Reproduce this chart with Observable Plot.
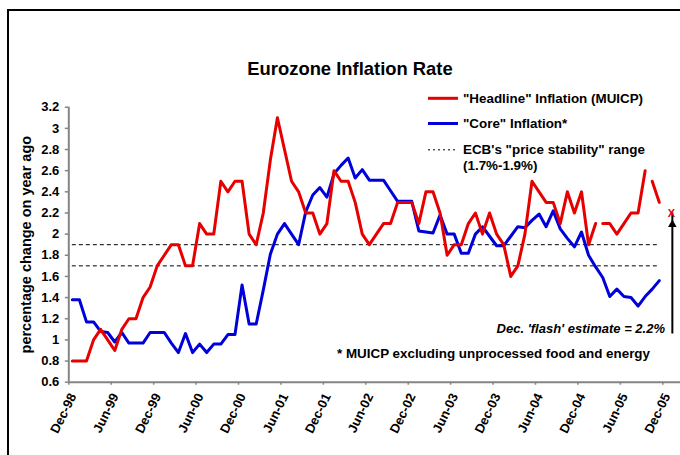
<!DOCTYPE html>
<html><head><meta charset="utf-8">
<script src="https://cdn.jsdelivr.net/npm/d3@7"></script>
<script src="https://cdn.jsdelivr.net/npm/@observablehq/plot@0.6"></script>
<style>
body{margin:0;background:#fff;}
#wrap{position:relative;width:680px;height:455px;overflow:hidden;background:#fff;}
#wrap svg{position:absolute;left:0;top:0;overflow:visible;}
.frame{position:absolute;left:7px;top:9px;width:720px;height:520px;border:2px solid #000;pointer-events:none;}
</style></head><body>
<div id="wrap"></div>
<script>
// ---- data ----
const tickLabels = ["Dec-98","Jun-99","Dec-99","Jun-00","Dec-00","Jun-01","Dec-01","Jun-02","Dec-02","Jun-03","Dec-03","Jun-04","Dec-04","Jun-05","Dec-05"];
const yTicks = [0.6,0.8,1,1.2,1.4,1.6,1.8,2,2.2,2.4,2.6,2.8,3,3.2];
// monthly, Dec-98 .. Nov-05
const headline = [
  0.8,0.8,0.8,1.0,1.1,1.0,0.9,1.1,1.2,1.2,1.4,1.5,
  1.7,1.8,1.9,1.9,1.7,1.7,2.1,2.0,2.0,2.5,2.4,2.5,
  2.5,2.0,1.9,2.2,2.7,3.1,2.8,2.5,2.4,2.2,2.2,2.0,
  2.1,2.6,2.5,2.5,2.3,2.0,1.9,2.0,2.1,2.1,2.3,2.3,
  2.3,2.1,2.4,2.4,2.2,1.8,1.9,1.9,2.1,2.2,2.0,2.2,
  2.0,1.9,1.6,1.7,2.0,2.5,2.4,2.3,2.3,2.1,2.4,2.2,
  2.4,1.9,2.1,2.1,2.1,2.0,2.1,2.2,2.2,2.6,2.5,2.3
];
const core = [
  1.38,1.38,1.17,1.17,1.08,1.07,0.98,1.07,0.97,0.97,0.97,1.07,
  1.07,1.07,0.97,0.88,1.06,0.88,0.96,0.88,0.96,0.96,1.05,1.05,
  1.52,1.15,1.15,1.47,1.81,2.00,2.10,2.00,1.90,2.21,2.37,2.44,
  2.35,2.57,2.65,2.72,2.53,2.61,2.51,2.51,2.51,2.41,2.31,2.31,
  2.31,2.03,2.02,2.01,2.18,2.00,2.00,1.82,1.82,2.00,2.07,1.98,
  1.89,1.89,1.98,2.07,2.06,2.13,2.19,2.07,2.22,2.05,1.96,1.88,
  2.02,1.80,1.69,1.59,1.41,1.48,1.41,1.40,1.32,1.41,1.48,1.56
];
const headlineBreaksAfter = ["Feb-05","Sep-05"];
const flashLabel = "Dec-05";
const flashValue = 2.2;
const arrowBase = 1.15;
const ecbRange = [1.7, 1.9];

// ---- derived tables ----
const fmt = d3.utcFormat("%b-%y");
const months = d3.utcMonth.range(new Date(Date.UTC(1998,11,1)), new Date(Date.UTC(2006,0,1))).map(fmt);
const breakIdx = headlineBreaksAfter.map(m => months.indexOf(m));
const headRows = headline.map((v,i) => ({i, v, seg: breakIdx.filter(b => b < i).length}));
const coreRows = core.map((v,i) => ({i, v}));
const flash = [{i: months.indexOf(flashLabel), v: flashValue}];
const tickPos = tickLabels.map(l => months.indexOf(l) - 0.5);

const RED = "#e60000", BLUE = "#0000d8", GRAY = "#858585";
const FONT = "'Liberation Sans', Arial, sans-serif";

const svg = Plot.plot({
  width: 680, height: 455,
  marginLeft: 68.3, marginRight: 0, marginTop: 106.7, marginBottom: 73.3,
  style: {fontFamily: FONT, fontWeight: "bold", fontSize: "13px", color: "#000", background: "transparent"},
  x: {type: "linear", domain: [-0.5, 86]},
  y: {domain: [0.6, 3.2]},
  marks: [
    Plot.ruleY(ecbRange, {x1: 0, x2: headline.length - 1, stroke: "#000", strokeWidth: 1, strokeDasharray: "4,3"}),
    Plot.line(coreRows, {x: "i", y: "v", stroke: BLUE, strokeWidth: 3, strokeLinejoin: "round"}),
    Plot.line(headRows, {x: "i", y: "v", z: "seg", stroke: RED, strokeWidth: 3, strokeLinejoin: "round"}),
    Plot.ruleY([0.6], {stroke: GRAY, strokeWidth: 2}),
    Plot.ruleX([-0.5], {stroke: GRAY, strokeWidth: 2}),
    Plot.axisY({ticks: yTicks, tickSize: 3.5, tickPadding: 6, stroke: GRAY, strokeWidth: 1.5, fill: "#000",
      tickFormat: d => String(+d.toFixed(1)), label: null}),
    Plot.axisX({ticks: tickPos, tickSize: 3, stroke: GRAY, strokeWidth: 1.5, tickFormat: () => "", label: null}),
    Plot.axisX({ticks: tickPos, tickSize: 0, tickPadding: 12, tickRotate: -64, dx: 4, fill: "#000",
      tickFormat: d => tickLabels[Math.round((d + 0.5) / 6)], label: null}),
    Plot.text(["percentage change on year ago"], {frameAnchor: "left", rotate: -90, dx: -38, textAnchor: "middle", lineAnchor: "bottom", fontSize: 14.5}),
    Plot.ruleX(flash, {x: "i", y1: () => arrowBase, y2: "v", dx: 6, insetTop: 10, stroke: "#000", strokeWidth: 2}),
    Plot.dot(flash, {x: "i", y: "v", symbol: "triangle", r: 3.2, fill: "#000", stroke: "none", dx: 6, dy: 11.6}),
    Plot.text(flash, {x: "i", y: "v", text: () => "X", fill: RED, dx: 5, fontSize: 11})
  ]
});

// ---- title, legend and notes ----
const g = d3.select(svg).append("g").attr("font-family", FONT).attr("font-weight", "bold").attr("fill", "#000").attr("text-anchor", "start");
g.append("text").attr("x", 350).attr("y", 74.5).attr("text-anchor", "middle").attr("font-size", 18.4).text("Eurozone Inflation Rate");
const legend = [
  {label: ["\"Headline\" Inflation (MUICP)"], color: RED, dash: null, w: 3, y: 98.3},
  {label: ["\"Core\" Inflation*"], color: BLUE, dash: null, w: 3, y: 123.5},
  {label: ["ECB's \"price stability\" range", "(1.7%-1.9%)"], color: "#000", dash: "2,3", w: 1, y: 149.8}
];
legend.forEach(d => {
  g.append("line").attr("x1", 428).attr("x2", 458).attr("y1", d.y).attr("y2", d.y)
    .attr("stroke", d.color).attr("stroke-width", d.w).attr("stroke-dasharray", d.dash);
  d.label.forEach((t, k) => g.append("text").attr("x", 463).attr("y", d.y + 4.6 + k * 15.3).attr("font-size", 13.4).text(t));
});
g.append("text").attr("x", 337).attr("y", 358).attr("font-size", 13.4).text("* MUICP excluding unprocessed food and energy");
g.append("text").attr("x", 665).attr("y", 332.5).attr("text-anchor", "end").attr("font-size", 13).attr("font-style", "italic").text("Dec. 'flash' estimate = 2.2%");

const wrap = document.getElementById("wrap");
wrap.appendChild(svg);
const fr = document.createElement("div"); fr.className = "frame"; wrap.appendChild(fr);
</script>
</body></html>
